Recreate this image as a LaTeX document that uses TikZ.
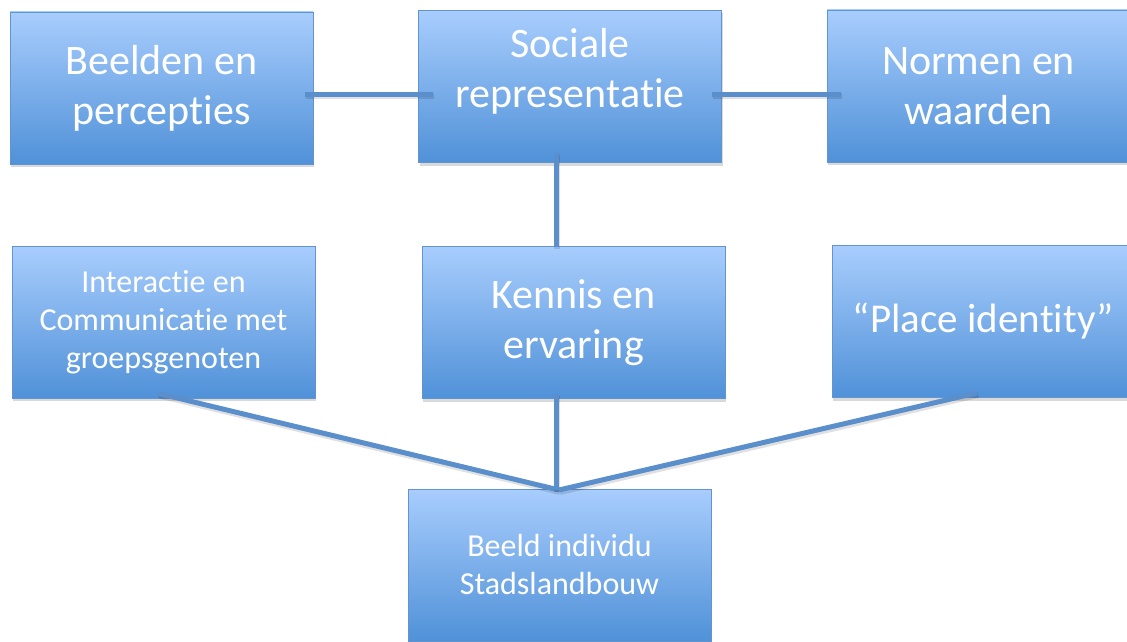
\documentclass[tikz,border=0pt]{standalone}
\usepackage{fontspec}
\setmainfont{Carlito}
\newcommand\losti{\mbox{t}\mbox{i}}
\usetikzlibrary{shadows}
\definecolor{bloktop}{RGB}{168,205,253}
\definecolor{blokonder}{RGB}{80,145,216}
\definecolor{blokrand}{RGB}{98,148,208}
\definecolor{lijnkleur}{RGB}{90,143,203}
\tikzset{
  blok/.style={rectangle, draw=blokrand, line width=0.8pt, top color=bloktop, bottom color=blokonder,
    minimum width=303pt, minimum height=152pt, inner sep=0pt, align=center, text=white,
    font=\fontsize{42}{50}\selectfont,
    drop shadow={opacity=0.3, shadow xshift=1pt, shadow yshift=-3pt}},
  kleinblok/.style={blok, font=\fontsize{32}{38}\selectfont},
  tekst/.style={align=center, text=white, inner sep=0pt, font=\fontsize{42}{50}\selectfont},
  lijn/.style={draw=lijnkleur, line width=5pt,
    preaction={draw=black, opacity=0.12, line width=6pt, transform canvas={xshift=1pt,yshift=-2pt}}}
}

\begin{document}
\begin{tikzpicture}[x=1pt,y=-1pt]
  \useasboundingbox (0,0) rectangle (1127,642);
  \node[blok] (beelden) at (161.5,88) {Beelden en\\percep\losti es};
  \node[blok] (sociale) at (570,86.5) {};
  \node[tekst] (socialetekst) at ([yshift=15pt]sociale.center) {Sociale\\representa\losti e};
  \node[blok] (normen) at (978.5,86) {Normen en\\waarden};

  \node[kleinblok] (interactie) at (163.5,322) {Interac\losti e en\\Communica\losti e met\\groepsgenoten};
  \node[blok] (kennis) at (573.5,322.5) {Kennis en\\ervaring};
  \node[blok, font=\fontsize{41}{50}\selectfont] (place) at (983.5,321.5) {“Place iden\losti ty”};

  \node[kleinblok] (beeld) at (559.5,565) {Beeld individu\\Stadslandbouw};
  \coordinate (samen) at (559,490);

  \draw[lijn] ([xshift=-8pt,yshift=-6pt]beelden.east) -- ([xshift=15pt,yshift=-7.5pt]sociale.west);
  \draw[lijn] ([xshift=-10pt,yshift=-7.5pt]sociale.east) -- ([xshift=14pt,yshift=-8pt]normen.west);
  \draw[lijn] ([xshift=-14pt,yshift=10pt]sociale.south) -- ([xshift=-17.5pt,yshift=-1pt]kennis.north);

  \draw[lijn] ([xshift=-5.5pt,yshift=5pt]interactie.south) -- (samen);
  \draw[lijn] ([xshift=-17.5pt,yshift=5pt]kennis.south) -- ([xshift=-17.5pt]kennis.south |- samen);
  \draw[lijn] ([xshift=-6.5pt,yshift=5pt]place.south) -- (samen);
\end{tikzpicture}
\end{document}
